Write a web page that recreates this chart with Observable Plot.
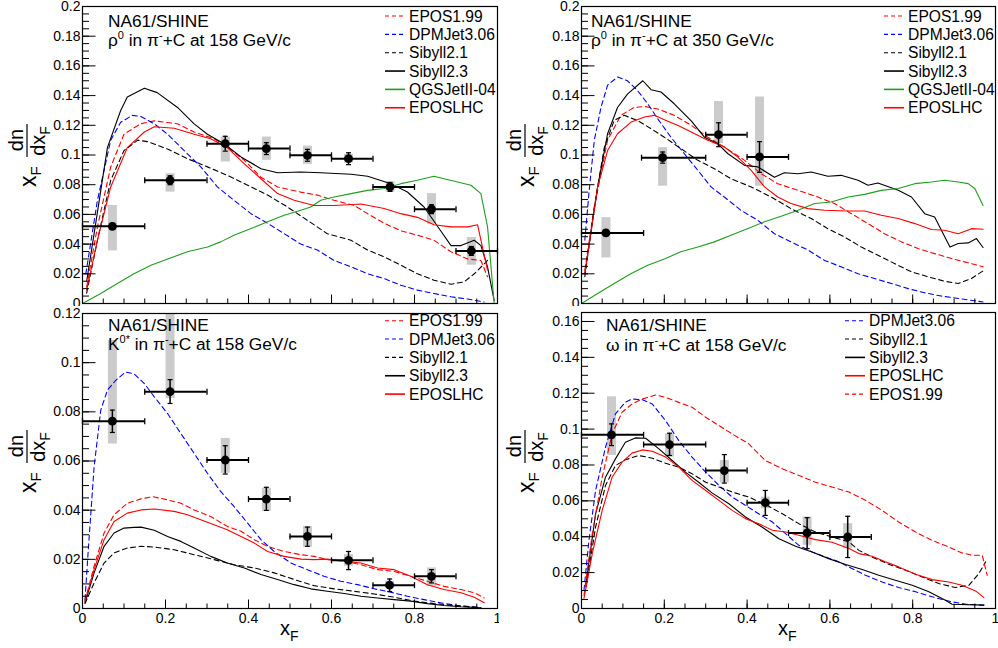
<!DOCTYPE html>
<html>
<head>
<meta charset="utf-8">
<script src="https://cdn.jsdelivr.net/npm/d3@7"></script>
<script src="https://cdn.jsdelivr.net/npm/@observablehq/plot@0.6"></script>
<style>
  html, body { margin: 0; padding: 0; background: white; }
  #root { position: relative; width: 998px; height: 648px; overflow: hidden; font-family: "Liberation Sans", Arial, Helvetica, sans-serif; }
  .pan { position: absolute; }
  #overlay { position: absolute; left: 0; top: 0; pointer-events: none; }
</style>
</head>
<body>
<div id="root"></div>
<script>
// ---------------- DATA ----------------
// data points: [xF, value, binLow, binHigh, statLow, statHigh, sysLow, sysHigh]
const rho158Points = [
  [0.072, 0.052, 0.0, 0.15, 0.050, 0.054, 0.0354, 0.066],
  [0.211, 0.083, 0.15, 0.30, 0.080, 0.086, 0.0750, 0.0874],
  [0.344, 0.1076, 0.30, 0.40, 0.1026, 0.1126, 0.0953, 0.1121],
  [0.443, 0.1043, 0.40, 0.50, 0.1003, 0.1083, 0.0964, 0.1121],
  [0.542, 0.0998, 0.50, 0.60, 0.0958, 0.1038, 0.0937, 0.1060],
  [0.641, 0.0975, 0.60, 0.70, 0.0935, 0.1015, 0.0945, 0.1005],
  [0.741, 0.0785, 0.70, 0.80, 0.0755, 0.0815, 0.0750, 0.0820],
  [0.841, 0.0635, 0.80, 0.90, 0.0605, 0.0665, 0.0534, 0.0740],
  [0.937, 0.0354, 0.90, 1.00, 0.0324, 0.0384, 0.0258, 0.0444]
];
const rho350Points = [
  [0.059, 0.0475, 0.0, 0.15, 0.0455, 0.0495, 0.0307, 0.0578],
  [0.196, 0.0982, 0.145, 0.30, 0.0945, 0.1020, 0.0790, 0.1050],
  [0.331, 0.1137, 0.30, 0.40, 0.1056, 0.1217, 0.1076, 0.1360],
  [0.430, 0.0987, 0.40, 0.50, 0.0883, 0.1090, 0.0790, 0.1390]
];
const k158Points = [
  [0.072, 0.0762, 0.0, 0.15, 0.0716, 0.0807, 0.0669, 0.1090],
  [0.211, 0.0882, 0.15, 0.30, 0.0834, 0.0931, 0.0854, 0.1200],
  [0.344, 0.0604, 0.30, 0.40, 0.0547, 0.0662, 0.0550, 0.0692],
  [0.443, 0.0445, 0.40, 0.50, 0.0399, 0.0493, 0.0395, 0.0489],
  [0.542, 0.0293, 0.50, 0.60, 0.0253, 0.0331, 0.0249, 0.0334],
  [0.641, 0.0196, 0.60, 0.70, 0.0158, 0.0232, 0.0172, 0.0219],
  [0.740, 0.0095, 0.70, 0.80, 0.0069, 0.0120, 0.0084, 0.0111],
  [0.841, 0.0131, 0.80, 0.90, 0.0104, 0.0158, 0.0090, 0.0165]
];
const omega158Points = [
  [0.0725, 0.0968, 0.0, 0.15, 0.0908, 0.1029, 0.0853, 0.1180],
  [0.2126, 0.0914, 0.15, 0.30, 0.0853, 0.0977, 0.0844, 0.0973],
  [0.345, 0.0769, 0.30, 0.40, 0.0699, 0.0858, 0.0699, 0.0825],
  [0.444, 0.0590, 0.40, 0.50, 0.0519, 0.0658, 0.0556, 0.0621],
  [0.545, 0.0421, 0.50, 0.60, 0.0334, 0.0506, 0.0352, 0.0510],
  [0.643, 0.0399, 0.60, 0.70, 0.0284, 0.0514, 0.0334, 0.0473]
];

// model curves: [xF, value]
const rho158_EPOS199 = [[0.01,0.011],[0.036,0.0516],[0.068,0.092],[0.1,0.114],[0.14,0.121],[0.173,0.123],[0.229,0.121],[0.269,0.1155],[0.317,0.111],[0.349,0.1054],[0.39,0.0964],[0.43,0.085],[0.47,0.0785],[0.526,0.075],[0.566,0.073],[0.606,0.0695],[0.655,0.066],[0.687,0.0605],[0.727,0.054],[0.767,0.049],[0.807,0.046],[0.847,0.0426],[0.888,0.0348],[0.928,0.030],[0.96,0.029],[0.976,0.018]];
const rho158_DPMJet = [[0.008,0.02],[0.036,0.0695],[0.068,0.11],[0.092,0.122],[0.12,0.1267],[0.14,0.126],[0.173,0.121],[0.205,0.114],[0.245,0.103],[0.285,0.092],[0.325,0.0785],[0.365,0.0695],[0.406,0.0605],[0.446,0.054],[0.486,0.047],[0.526,0.040],[0.566,0.036],[0.606,0.029],[0.647,0.0247],[0.687,0.020],[0.727,0.0168],[0.767,0.0123],[0.807,0.009],[0.847,0.0067],[0.888,0.0045],[0.928,0.003],[0.968,0.001]];
const rho158_Sibyll21 = [[0.01,0.007],[0.036,0.0426],[0.068,0.083],[0.1,0.103],[0.133,0.11],[0.157,0.109],[0.205,0.104],[0.253,0.0975],[0.301,0.092],[0.349,0.0863],[0.398,0.0796],[0.446,0.073],[0.494,0.065],[0.542,0.056],[0.59,0.047],[0.647,0.0426],[0.687,0.036],[0.727,0.0314],[0.767,0.0258],[0.807,0.020],[0.847,0.0157],[0.888,0.013],[0.92,0.0146],[0.944,0.020],[0.976,0.029]];
const rho158_Sibyll23 = [[0.01,0.015],[0.028,0.047],[0.06,0.105],[0.092,0.130],[0.108,0.139],[0.149,0.145],[0.18,0.142],[0.229,0.132],[0.269,0.121],[0.301,0.114],[0.341,0.1076],[0.382,0.0987],[0.43,0.0908],[0.47,0.088],[0.526,0.0886],[0.574,0.088],[0.647,0.087],[0.687,0.0857],[0.743,0.0807],[0.783,0.0751],[0.823,0.065],[0.863,0.049],[0.888,0.039],[0.912,0.039],[0.944,0.0426],[0.96,0.039],[0.976,0.0247],[0.992,0.002]];
const rho158_QGSJet = [[0,0],[0.044,0.0067],[0.084,0.0135],[0.124,0.020],[0.165,0.0258],[0.205,0.030],[0.253,0.0348],[0.301,0.038],[0.333,0.0415],[0.365,0.046],[0.406,0.0505],[0.446,0.055],[0.486,0.0594],[0.526,0.0628],[0.55,0.065],[0.574,0.0695],[0.606,0.0717],[0.647,0.074],[0.687,0.0762],[0.727,0.0774],[0.767,0.0807],[0.807,0.083],[0.847,0.0857],[0.871,0.084],[0.904,0.0818],[0.936,0.0796],[0.96,0.074],[0.976,0.0516],[0.992,0]];
const rho158_EPOSLHC = [[0.01,0.009],[0.036,0.0426],[0.068,0.0785],[0.108,0.105],[0.149,0.1155],[0.173,0.119],[0.221,0.118],[0.269,0.114],[0.309,0.111],[0.349,0.105],[0.39,0.094],[0.43,0.084],[0.47,0.074],[0.51,0.0695],[0.558,0.066],[0.606,0.066],[0.671,0.067],[0.727,0.064],[0.767,0.0605],[0.807,0.058],[0.847,0.053],[0.888,0.0516],[0.928,0.0516],[0.952,0.053],[0.976,0.0224]];

const rho350_EPOS199 = [[0.008,0.0224],[0.031,0.065],[0.063,0.11],[0.095,0.1267],[0.127,0.132],[0.152,0.1327],[0.184,0.131],[0.224,0.1267],[0.265,0.12],[0.305,0.112],[0.345,0.1054],[0.394,0.0964],[0.434,0.0874],[0.474,0.0807],[0.523,0.0762],[0.571,0.0717],[0.611,0.0673],[0.652,0.0605],[0.692,0.0538],[0.732,0.047],[0.773,0.0415],[0.813,0.037],[0.853,0.0336],[0.894,0.0303],[0.934,0.0274],[0.97,0.0247]];
const rho350_DPMJet = [[0.008,0.0426],[0.0185,0.076],[0.031,0.11],[0.047,0.132],[0.063,0.147],[0.087,0.1525],[0.111,0.150],[0.135,0.1435],[0.16,0.1345],[0.184,0.1244],[0.216,0.112],[0.248,0.101],[0.281,0.0897],[0.313,0.0785],[0.345,0.0717],[0.385,0.0628],[0.426,0.056],[0.466,0.047],[0.506,0.0415],[0.547,0.036],[0.587,0.029],[0.627,0.0247],[0.668,0.020],[0.708,0.0168],[0.748,0.0135],[0.789,0.010],[0.829,0.0072],[0.869,0.005],[0.91,0.0034],[0.95,0.0018],[0.97,0.001]];
const rho350_Sibyll21 = [[0.008,0.018],[0.031,0.065],[0.055,0.105],[0.079,0.1233],[0.103,0.1267],[0.135,0.1233],[0.168,0.1177],[0.2,0.112],[0.24,0.1043],[0.281,0.0964],[0.321,0.0908],[0.361,0.084],[0.41,0.0785],[0.458,0.0717],[0.506,0.0639],[0.555,0.0572],[0.595,0.0504],[0.635,0.0448],[0.676,0.038],[0.716,0.0325],[0.756,0.0269],[0.797,0.0213],[0.837,0.018],[0.877,0.015],[0.91,0.0135],[0.942,0.0168],[0.97,0.022]];
const rho350_Sibyll23 = [[0.008,0.02],[0.039,0.0785],[0.063,0.1143],[0.087,0.132],[0.111,0.141],[0.148,0.150],[0.168,0.144],[0.192,0.1424],[0.224,0.1345],[0.265,0.123],[0.297,0.112],[0.329,0.1076],[0.353,0.101],[0.394,0.093],[0.426,0.092],[0.466,0.085],[0.49,0.088],[0.523,0.0874],[0.555,0.0886],[0.595,0.0857],[0.627,0.0863],[0.668,0.083],[0.692,0.0796],[0.716,0.0812],[0.765,0.0762],[0.797,0.0717],[0.829,0.0605],[0.853,0.0583],[0.89,0.038],[0.91,0.0404],[0.934,0.0408],[0.954,0.0437],[0.97,0.0377]];
const rho350_QGSJet = [[0,0],[0.039,0.0067],[0.079,0.0135],[0.119,0.020],[0.16,0.0258],[0.2,0.030],[0.24,0.0348],[0.281,0.038],[0.321,0.0415],[0.361,0.046],[0.402,0.0505],[0.442,0.055],[0.482,0.0587],[0.523,0.0628],[0.563,0.0673],[0.603,0.0684],[0.644,0.0717],[0.684,0.0735],[0.724,0.0762],[0.765,0.0774],[0.805,0.0807],[0.845,0.0818],[0.877,0.083],[0.91,0.0818],[0.934,0.0807],[0.95,0.0774],[0.97,0.066]];
const rho350_EPOSLHC = [[0.008,0.02],[0.039,0.0785],[0.063,0.103],[0.087,0.1143],[0.119,0.122],[0.152,0.1256],[0.176,0.1267],[0.2,0.1238],[0.232,0.12],[0.265,0.1155],[0.305,0.11],[0.345,0.1054],[0.377,0.0987],[0.41,0.0897],[0.442,0.0785],[0.474,0.0717],[0.506,0.0673],[0.547,0.0639],[0.587,0.0628],[0.644,0.0623],[0.684,0.0623],[0.724,0.0594],[0.765,0.0572],[0.805,0.0538],[0.845,0.0498],[0.877,0.0493],[0.91,0.047],[0.942,0.0504],[0.97,0.05]];

const k158_EPOS199 = [[0.006,0.003],[0.028,0.0172],[0.052,0.0307],[0.076,0.0381],[0.108,0.0428],[0.141,0.0446],[0.169,0.0455],[0.205,0.0442],[0.237,0.0428],[0.269,0.0401],[0.309,0.0374],[0.349,0.0334],[0.382,0.0314],[0.414,0.028],[0.446,0.0253],[0.486,0.0232],[0.526,0.0219],[0.558,0.0212],[0.59,0.0199],[0.631,0.0192],[0.671,0.0178],[0.711,0.0158],[0.751,0.0151],[0.791,0.0131],[0.831,0.0111],[0.871,0.009],[0.912,0.0077],[0.944,0.0064],[0.968,0.0043]];
const k158_DPMJet = [[0.006,0.0036],[0.014,0.024],[0.028,0.0577],[0.044,0.0807],[0.06,0.0888],[0.08,0.0928],[0.104,0.0962],[0.124,0.0955],[0.149,0.0915],[0.173,0.0861],[0.205,0.0793],[0.237,0.0712],[0.269,0.0631],[0.301,0.055],[0.333,0.0476],[0.365,0.0415],[0.398,0.0347],[0.43,0.028],[0.462,0.0232],[0.502,0.0185],[0.542,0.0158],[0.582,0.0131],[0.622,0.0111],[0.663,0.0097],[0.703,0.008],[0.743,0.0066],[0.783,0.005],[0.823,0.0036],[0.863,0.0023],[0.904,0.0012],[0.96,0.0003]];
const k158_Sibyll21 = [[0.006,0.002],[0.028,0.0104],[0.052,0.0185],[0.076,0.0226],[0.108,0.0246],[0.141,0.0253],[0.173,0.025],[0.221,0.0239],[0.269,0.0219],[0.317,0.0199],[0.365,0.0178],[0.414,0.0165],[0.462,0.0145],[0.51,0.0118],[0.558,0.0093],[0.606,0.008],[0.655,0.007],[0.703,0.0059],[0.751,0.0046],[0.799,0.003],[0.847,0.002],[0.896,0.0012],[0.96,0.0004]];
const k158_Sibyll23 = [[0.006,0.0023],[0.028,0.0145],[0.052,0.0253],[0.076,0.0307],[0.1,0.0327],[0.124,0.033],[0.141,0.0331],[0.173,0.0318],[0.205,0.0293],[0.237,0.0273],[0.269,0.0246],[0.309,0.0212],[0.349,0.0185],[0.39,0.0165],[0.43,0.0138],[0.47,0.0118],[0.51,0.0097],[0.55,0.008],[0.59,0.007],[0.631,0.0061],[0.671,0.005],[0.711,0.0043],[0.751,0.0036],[0.791,0.003],[0.831,0.002],[0.871,0.0012],[0.912,0.0007],[0.96,0.0003]];
const k158_EPOSLHC = [[0.006,0.003],[0.028,0.0158],[0.052,0.028],[0.076,0.0354],[0.108,0.0388],[0.141,0.0401],[0.173,0.0405],[0.221,0.0395],[0.253,0.0381],[0.285,0.0361],[0.317,0.0341],[0.349,0.032],[0.382,0.0293],[0.414,0.0266],[0.446,0.0232],[0.486,0.0212],[0.526,0.0201],[0.558,0.0199],[0.59,0.0201],[0.631,0.0192],[0.671,0.0185],[0.711,0.0165],[0.751,0.0158],[0.791,0.0131],[0.831,0.0097],[0.871,0.0077],[0.912,0.0064],[0.944,0.0046],[0.968,0.0023]];

const omega158_DPMJet = [[0.006,0.0102],[0.018,0.038],[0.034,0.0658],[0.058,0.0899],[0.082,0.1085],[0.106,0.115],[0.122,0.1168],[0.147,0.1164],[0.171,0.114],[0.203,0.1047],[0.235,0.0936],[0.267,0.0844],[0.3,0.076],[0.332,0.0686],[0.364,0.0621],[0.396,0.0575],[0.428,0.0528],[0.461,0.0482],[0.493,0.0417],[0.525,0.0352],[0.557,0.0315],[0.589,0.0287],[0.622,0.026],[0.654,0.0222],[0.686,0.0185],[0.726,0.0148],[0.766,0.0117],[0.807,0.0093],[0.847,0.0065],[0.887,0.0041],[0.928,0.0024],[0.972,0.0019]];
const omega158_Sibyll21 = [[0.011,0.012],[0.034,0.0454],[0.058,0.0686],[0.082,0.0797],[0.106,0.0829],[0.138,0.0853],[0.171,0.0838],[0.203,0.081],[0.235,0.0788],[0.267,0.0751],[0.3,0.0704],[0.332,0.0677],[0.364,0.0649],[0.404,0.0621],[0.444,0.058],[0.485,0.0528],[0.525,0.0473],[0.565,0.0426],[0.605,0.0399],[0.646,0.0371],[0.67,0.0324],[0.702,0.0287],[0.742,0.0247],[0.783,0.0213],[0.823,0.0176],[0.863,0.0139],[0.903,0.0117],[0.936,0.013],[0.96,0.0195],[0.976,0.026]];
const omega158_Sibyll23 = [[0.011,0.0139],[0.034,0.0528],[0.058,0.0732],[0.082,0.0834],[0.106,0.0927],[0.13,0.0951],[0.155,0.0949],[0.187,0.089],[0.219,0.0825],[0.251,0.076],[0.283,0.0704],[0.316,0.0643],[0.356,0.0584],[0.396,0.051],[0.436,0.0454],[0.477,0.0389],[0.517,0.0347],[0.557,0.0315],[0.597,0.0278],[0.638,0.0245],[0.678,0.0217],[0.718,0.0185],[0.758,0.0158],[0.799,0.013],[0.839,0.0093],[0.879,0.0046],[0.895,0.0024],[0.972,0.0019]];
const omega158_EPOSLHC = [[0.006,0.0056],[0.026,0.0306],[0.05,0.0547],[0.074,0.0732],[0.098,0.0816],[0.122,0.0866],[0.147,0.0884],[0.171,0.0877],[0.203,0.0844],[0.235,0.0788],[0.267,0.0714],[0.3,0.0658],[0.332,0.0603],[0.364,0.0547],[0.396,0.0501],[0.428,0.0473],[0.461,0.0436],[0.493,0.0426],[0.525,0.0408],[0.565,0.0384],[0.605,0.0369],[0.646,0.0334],[0.67,0.0306],[0.702,0.0291],[0.734,0.026],[0.766,0.0232],[0.807,0.0191],[0.847,0.0161],[0.887,0.0148],[0.919,0.013],[0.952,0.0098],[0.972,0.0061]];
const omega158_EPOS199 = [[0.006,0.0074],[0.026,0.0417],[0.05,0.0732],[0.074,0.0973],[0.098,0.1094],[0.122,0.114],[0.147,0.1168],[0.179,0.119],[0.203,0.1177],[0.235,0.1149],[0.267,0.1122],[0.3,0.1066],[0.332,0.102],[0.364,0.0973],[0.404,0.0918],[0.444,0.0825],[0.485,0.0779],[0.525,0.0742],[0.565,0.0704],[0.605,0.0677],[0.646,0.0649],[0.686,0.0603],[0.726,0.0547],[0.766,0.0482],[0.807,0.0426],[0.847,0.038],[0.887,0.0343],[0.919,0.031],[0.944,0.0297],[0.968,0.0297],[0.98,0.0185]];

// axis tick values and labels
const xTickValues = [0, 0.2, 0.4, 0.6, 0.8, 1];
const xTickLabels = ["0", "0.2", "0.4", "0.6", "0.8", "1"];
const yTicksRho = [0, 0.02, 0.04, 0.06, 0.08, 0.1, 0.12, 0.14, 0.16, 0.18, 0.2];
const yTicksK = [0, 0.02, 0.04, 0.06, 0.08, 0.1, 0.12];
const yTicksOmega = [0, 0.02, 0.04, 0.06, 0.08, 0.1, 0.12, 0.14, 0.16];

// ---------------- STYLES ----------------
const MODELS = {
  "EPOS1.99":    {color: "#ff0000", dash: true},
  "DPMJet3.06":  {color: "#0000ff", dash: true},
  "Sibyll2.1":   {color: "#000000", dash: true},
  "Sibyll2.3":   {color: "#000000", dash: false},
  "QGSJetII-04": {color: "#1f9e1f", dash: false},
  "EPOSLHC":     {color: "#ff0000", dash: false}
};
const DASH = "5,3.5";
const FONT = '"Liberation Sans", Arial, Helvetica, sans-serif';

const panels = [
  { left: 0, top: 0, width: 499, height: 306, mt: 6, mb: 3, mr: 2, ymax: 0.2, yTicks: yTicksRho, bottom: false,
    points: rho158Points,
    curves: [["EPOS1.99", rho158_EPOS199], ["DPMJet3.06", rho158_DPMJet], ["Sibyll2.1", rho158_Sibyll21], ["Sibyll2.3", rho158_Sibyll23], ["QGSJetII-04", rho158_QGSJet], ["EPOSLHC", rho158_EPOSLHC]],
    legend: {x: 385, y: 16, names: ["EPOS1.99", "DPMJet3.06", "Sibyll2.1", "Sibyll2.3", "QGSJetII-04", "EPOSLHC"]},
    title: {x: 108, y: 26.5, parts: [["ρ"], ["0", "sup"], [" in π"], ["-", "sup"], ["+C at 158 GeV/c"]]} },
  { left: 499, top: 0, width: 499, height: 306, mt: 6, mb: 3, mr: 3, ymax: 0.2, yTicks: yTicksRho, bottom: false,
    points: rho350Points,
    curves: [["EPOS1.99", rho350_EPOS199], ["DPMJet3.06", rho350_DPMJet], ["Sibyll2.1", rho350_Sibyll21], ["Sibyll2.3", rho350_Sibyll23], ["QGSJetII-04", rho350_QGSJet], ["EPOSLHC", rho350_EPOSLHC]],
    legend: {x: 884, y: 16, names: ["EPOS1.99", "DPMJet3.06", "Sibyll2.1", "Sibyll2.3", "QGSJetII-04", "EPOSLHC"]},
    title: {x: 591, y: 26.5, parts: [["ρ"], ["0", "sup"], [" in π"], ["-", "sup"], ["+C at 350 GeV/c"]]} },
  { left: 0, top: 306, width: 499, height: 342, mt: 7, mb: 40, mr: 2, ymax: 0.12, yTicks: yTicksK, bottom: true,
    points: k158Points,
    curves: [["EPOS1.99", k158_EPOS199], ["DPMJet3.06", k158_DPMJet], ["Sibyll2.1", k158_Sibyll21], ["Sibyll2.3", k158_Sibyll23], ["EPOSLHC", k158_EPOSLHC]],
    legend: {x: 385, y: 320.7, names: ["EPOS1.99", "DPMJet3.06", "Sibyll2.1", "Sibyll2.3", "EPOSLHC"]},
    title: {x: 108, y: 330.5, parts: [["K"], ["0*", "sup"], [" in π"], ["-", "sup"], ["+C at 158 GeV/c"]]} },
  { left: 499, top: 306, width: 499, height: 342, mt: 6, mb: 40, mr: 3, ymax: 0.165, yTicks: yTicksOmega, bottom: true,
    points: omega158Points,
    curves: [["DPMJet3.06", omega158_DPMJet], ["Sibyll2.1", omega158_Sibyll21], ["Sibyll2.3", omega158_Sibyll23], ["EPOSLHC", omega158_EPOSLHC], ["EPOS1.99", omega158_EPOS199]],
    legend: {x: 845, y: 320.7, names: ["DPMJet3.06", "Sibyll2.1", "Sibyll2.3", "EPOSLHC", "EPOS1.99"]},
    title: {x: 606, y: 331, parts: [["ω in π"], ["-", "sup"], ["+C at 158 GeV/c"]]} }
];

// custom symbols for caps and inward ticks
const vCap = {draw(ctx) { ctx.moveTo(0, -3); ctx.lineTo(0, 3); }};
const hCap = {draw(ctx) { ctx.moveTo(-2.5, 0); ctx.lineTo(2.5, 0); }};
const tickRight = (L) => ({draw(ctx) { ctx.moveTo(0, 0); ctx.lineTo(L, 0); }});
const tickUp = (L) => ({draw(ctx) { ctx.moveTo(0, 0); ctx.lineTo(0, -L); }});

const fmt = d => String(+(+d).toFixed(4));

const root = document.getElementById("root");

for (const p of panels) {
  const xMinor = d3.range(0, 1.0001, 0.05).map(v => +v.toFixed(3));
  const yMinor = d3.range(0, p.ymax + 1e-9, 0.005).map(v => +v.toFixed(4));
  const marks = [];
  // systematic boxes
  marks.push(Plot.ruleX(p.points, {x: d => d[0], y1: d => d[6], y2: d => d[7], stroke: "#cbcbcb", strokeWidth: 9, clip: true}));
  // model curves
  for (const [name, data] of p.curves) {
    const m = MODELS[name];
    marks.push(Plot.line(data, {x: d => d[0], y: d => d[1], stroke: m.color, strokeWidth: 1.1, strokeDasharray: m.dash ? DASH : null, clip: true}));
  }
  // x error bars (bin widths)
  marks.push(Plot.ruleY(p.points, {y: d => d[1], x1: d => d[2], x2: d => d[3], stroke: "black", strokeWidth: 2}));
  marks.push(Plot.dot(p.points, {x: d => d[2], y: d => d[1], symbol: vCap, stroke: "black", fill: "none", strokeWidth: 1.3}));
  marks.push(Plot.dot(p.points, {x: d => d[3], y: d => d[1], symbol: vCap, stroke: "black", fill: "none", strokeWidth: 1.3}));
  // statistical errors
  marks.push(Plot.ruleX(p.points, {x: d => d[0], y1: d => d[4], y2: d => d[5], stroke: "black", strokeWidth: 1.5}));
  marks.push(Plot.dot(p.points, {x: d => d[0], y: d => d[4], symbol: hCap, stroke: "black", fill: "none", strokeWidth: 1.2}));
  marks.push(Plot.dot(p.points, {x: d => d[0], y: d => d[5], symbol: hCap, stroke: "black", fill: "none", strokeWidth: 1.2}));
  // markers
  marks.push(Plot.dot(p.points, {x: d => d[0], y: d => d[1], r: 4.4, fill: "black", stroke: "none"}));
  // inward ticks
  marks.push(Plot.dot(yMinor, {frameAnchor: "left", y: d => d, symbol: tickRight(6.5), stroke: "black", fill: "none", strokeWidth: 1}));
  marks.push(Plot.dot(p.yTicks, {frameAnchor: "left", y: d => d, symbol: tickRight(13), stroke: "black", fill: "none", strokeWidth: 1}));
  marks.push(Plot.dot(xMinor, {frameAnchor: "bottom", x: d => d, symbol: tickUp(5), stroke: "black", fill: "none", strokeWidth: 1}));
  marks.push(Plot.dot(xTickValues, {frameAnchor: "bottom", x: d => d, symbol: tickUp(9), stroke: "black", fill: "none", strokeWidth: 1}));
  // frame
  marks.push(Plot.frame({stroke: "black", strokeWidth: 1.2}));
  // axis labels
  marks.push(Plot.axisY(p.yTicks, {anchor: "left", tickSize: 0, tickPadding: 2, tickFormat: fmt, fontSize: 14, label: null}));
  if (p.bottom) {
    marks.push(Plot.axisX(xTickValues, {anchor: "bottom", tickSize: 0, tickPadding: 5, tickFormat: (d, i) => xTickLabels[i], fontSize: 14, label: null}));
  }

  const chart = Plot.plot({
    width: p.width, height: p.height,
    marginLeft: 82, marginRight: p.mr, marginTop: p.mt, marginBottom: p.mb,
    x: {domain: [0, 1], axis: null, label: null},
    y: {domain: [0, p.ymax], axis: null, label: null},
    style: {fontFamily: FONT, fontSize: "14px", background: "white", overflow: "visible", color: "black"},
    marks
  });
  const div = document.createElement("div");
  div.className = "pan";
  div.style.left = p.left + "px";
  div.style.top = p.top + "px";
  div.style.width = p.width + "px";
  div.style.height = p.height + "px";
  div.style.background = "white";
  div.appendChild(chart);
  root.appendChild(div);
}

// ---------------- OVERLAY: titles, legends, axis titles ----------------
const NS = "http://www.w3.org/2000/svg";
const ov = document.createElementNS(NS, "svg");
ov.setAttribute("id", "overlay");
ov.setAttribute("width", 998);
ov.setAttribute("height", 648);
ov.style.fontFamily = FONT;
root.appendChild(ov);

function el(tag, attrs, parent, text) {
  const e = document.createElementNS(NS, tag);
  for (const k in attrs) e.setAttribute(k, attrs[k]);
  if (text != null) e.textContent = text;
  (parent || ov).appendChild(e);
  return e;
}

for (const p of panels) {
  // title
  el("text", {x: p.title.x, y: p.title.y, "font-size": 17.3}, null, "NA61/SHINE");
  const t = el("text", {x: p.title.x, y: p.title.y + 19.5, "font-size": 17.3});
  for (const [s, kind] of p.title.parts) {
    if (kind === "sup") el("tspan", {"font-size": 11, dy: -7}, t, s);
    else {
      const ts = el("tspan", {}, t, s);
      if (t.childNodes.length > 1) ts.setAttribute("dy", 7);
    }
  }
  // legend
  p.legend.names.forEach((name, i) => {
    const m = MODELS[name];
    const cy = p.legend.y + i * 18.35;
    el("line", {x1: p.legend.x, x2: p.legend.x + 20, y1: cy, y2: cy, stroke: m.color, "stroke-width": m.dash ? 1.1 : 1.6, "stroke-dasharray": m.dash ? "4,3" : "none"});
    el("text", {x: p.legend.x + 24, y: cy + 5.6, "font-size": 15.6}, null, name);
  });
  // y axis title: x_F dn/dx_F (rotated)
  const ox = p.left - (p.left ? 1 : 0), oy = p.top;
  const g = el("g", {transform: `translate(${ox},${oy}) rotate(-90)`});
  const t1 = el("text", {x: -187, y: 36, "font-size": 23}, g, "x");
  el("tspan", {"font-size": 15, dy: 5}, t1, "F");
  el("text", {x: -140, y: 23, "font-size": 20, "text-anchor": "middle"}, g, "dn");
  el("line", {x1: -157, x2: -124, y1: 27, y2: 27, stroke: "black", "stroke-width": 1.2}, g);
  const t2 = el("text", {x: -141, y: 45, "font-size": 20, "text-anchor": "middle"}, g, "dx");
  el("tspan", {"font-size": 14, dy: 5}, t2, "F");
  // x axis title
  if (p.bottom) {
    const xt = el("text", {x: p.left + 280 - (p.left ? 1 : 0), y: 635, "font-size": 20}, null, "x");
    el("tspan", {"font-size": 14, dy: 6}, xt, "F");
  }
}
</script>
</body>
</html>
